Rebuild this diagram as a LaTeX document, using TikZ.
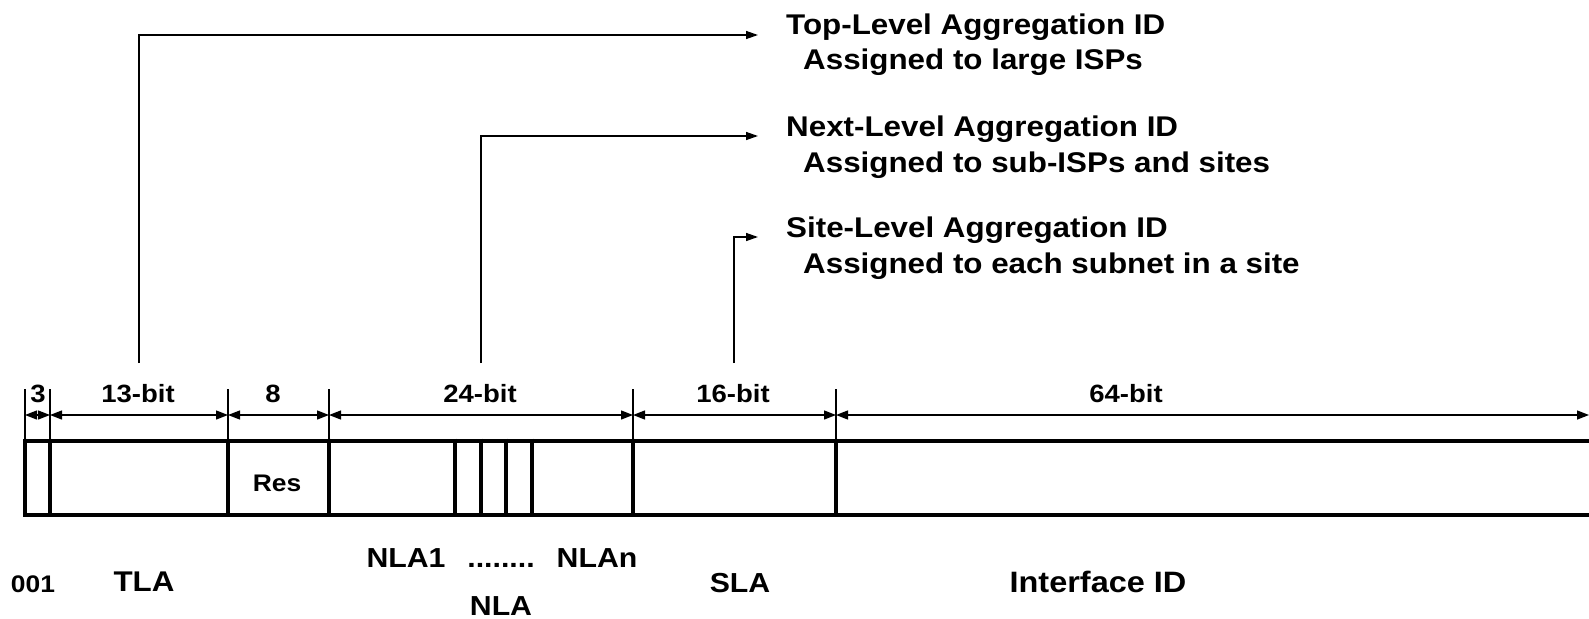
\documentclass[tikz,border=0pt]{standalone}
\usepackage{fontspec}
\setmainfont{Liberation Sans}[FakeStretch=1.1]
\usetikzlibrary{arrows.meta}
\tikzset{
  txt/.style={inner sep=0pt, font=\bfseries\fontsize{#1}{#1}\selectfont},
  lbl/.style={txt=25, anchor=base},
  title/.style={txt=28.5, anchor=base west},
  fname/.style={txt=#1, anchor=base},
  leader/.style={line width=1.4pt, -{Triangle[length=12pt,width=8pt]}},
  dimline/.style={line width=1.3pt, {Triangle[length=12pt,width=9pt]}-{Triangle[length=12pt,width=9pt]}},
  extline/.style={line width=1.2pt},
  fieldline/.style={line width=4pt}
}
\begin{document}
\begin{tikzpicture}[x=1pt,y=-1pt]
\useasboundingbox (0,0) rectangle (1589,618);

% header texts
\node[title] (tlaTitle) at (786,35) {Top-Level Aggregation ID};
\node[title] (tlaSub)   at (803,70) {Assigned to large ISPs};
\node[title] (nlaTitle) at (786,136) {Next-Level Aggregation ID};
\node[title] (nlaSub)   at (803,172) {Assigned to sub-ISPs and sites};
\node[title] (slaTitle) at (786,237) {Site-Level Aggregation ID};
\node[title] (slaSub)   at (803,273) {Assigned to each subnet in a site};

% leader start points
\coordinate (tlaLead) at (139,363);
\coordinate (nlaLead) at (481,363);
\coordinate (slaLead) at (734,363);
\draw[leader] (tlaLead) |- ([xshift=-28pt]tlaTitle.base west);
\draw[leader] (nlaLead) |- ([xshift=-28pt]nlaTitle.base west);
\draw[leader] (slaLead) |- ([xshift=-28pt]slaTitle.base west);

% the address box (continues past the right edge)
\draw[fieldline] (25,440.5) -- (1610,440.5);
\draw[fieldline] (25,515) -- (1610,515);
\foreach \x in {25,50,228,329,455,481,506,532,633,836}
  \draw[fieldline] (\x,438.5) -- (\x,517);

% extension lines
\foreach \x in {25,50,228,329,633,836}
  \draw[extline] (\x,389) -- (\x,440);

% dimension arrows
\coordinate (b0) at (25,415);
\coordinate (b1) at (50,415);
\coordinate (b2) at (228,415);
\coordinate (b3) at (329,415);
\coordinate (b4) at (633,415);
\coordinate (b5) at (836,415);
\coordinate (b6) at (1589,415);
\draw[dimline] (b0) -- (b1);
\draw[dimline] (b1) -- (b2);
\draw[dimline] (b2) -- (b3);
\draw[dimline] (b3) -- (b4);
\draw[dimline] (b4) -- (b5);
\draw[dimline] (b5) -- (b6);

% dimension labels
\node[lbl] (d3)  at (38,402) {3};
\node[lbl] (d13) at (138,402) {13-bit};
\node[lbl] (d8)  at (273,402) {8};
\node[lbl] (d24) at (480,402) {24-bit};
\node[lbl] (d16) at (733,402) {16-bit};
\node[lbl] (d64) at (1126,402) {64-bit};

% field names
\node[fname=24] (res) at (277,491) {Res};
\node[fname=24] (pfx) at (33,592) {001};
\node[fname=28.5] (tla) at (144,591) {TLA};
\node[fname=27.5] (nla1) at (406,567) {NLA1};
\node[fname=27.5] (dots) at (501,567) {........};
\node[fname=27.5] (nlan) at (597,567) {NLAn};
\node[fname=27.5] (nla) at (501,615) {NLA};
\node[fname=27.5] (sla) at (740,592) {SLA};
\node[fname=29.5] (iid) at (1098,592) {Interface ID};
\end{tikzpicture}
\end{document}
